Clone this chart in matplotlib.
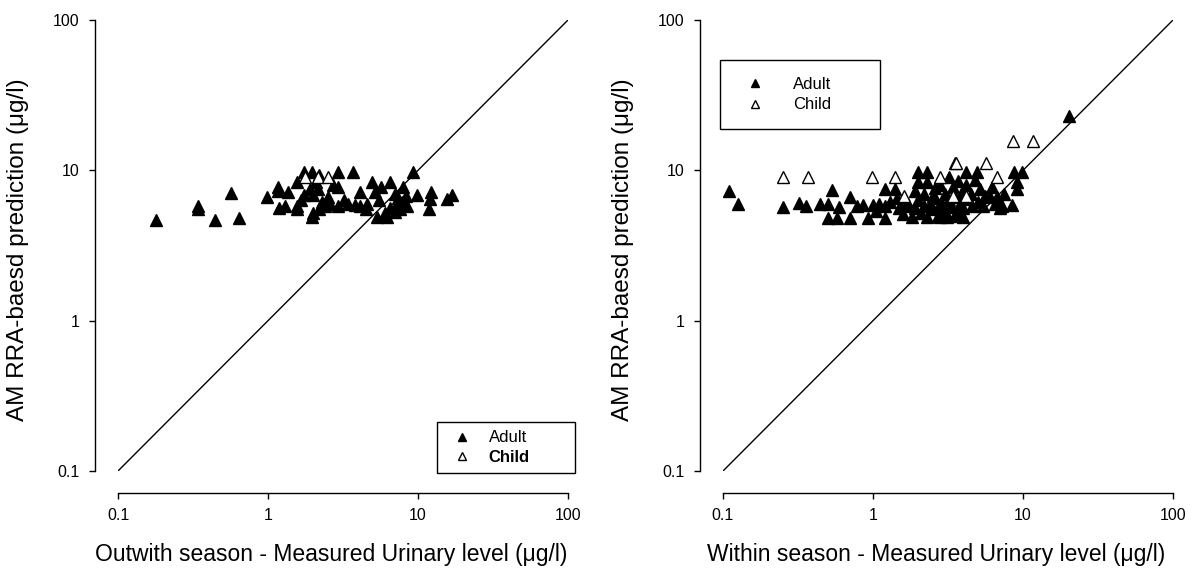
import numpy as np
import matplotlib
matplotlib.use("Agg")
import matplotlib.pyplot as plt
from matplotlib.ticker import FixedLocator, FixedFormatter, NullLocator

plt.rcParams['font.family'] = ['Liberation Sans', 'DejaVu Sans']

# Outwith season: measured urinary level vs RRA-based prediction
out_adult_x = [0.18, 0.34, 0.34, 0.44, 0.57, 0.64, 0.98, 1.17, 1.17, 1.18, 1.36, 1.56, 1.56, 1.56,
               1.74, 1.74, 1.96, 1.9, 2.0, 1.96, 2.0, 2.15, 2.2, 2.3, 2.4, 2.5, 2.6, 2.93, 2.93,
               2.93, 3.2, 3.4, 3.69, 4.1, 4.1, 3.8, 4.6, 4.94, 5.2, 5.5, 5.7, 5.3, 6.2, 6.5, 6.5,
               7.0, 7.2, 7.4, 7.4, 7.6, 7.8, 8.0, 8.3, 7.0, 9.26, 9.8, 8.5, 12.3, 12.0, 11.8,
               15.6, 16.9, 1.3, 1.65, 2.1, 2.7, 2.2, 6.0, 4.5]
out_adult_y = [4.7, 5.8, 5.5, 4.7, 7.1, 4.8, 6.6, 7.8, 7.3, 5.6, 7.2, 8.3, 5.8, 5.5,
               9.7, 6.9, 9.7, 7.5, 6.9, 4.9, 5.2, 7.5, 5.5, 6.2, 5.8, 6.6, 6.0, 9.7, 7.8,
               5.8, 6.3, 6.0, 9.7, 7.2, 5.8, 5.9, 6.0, 8.4, 7.2, 6.3, 7.8, 4.9, 4.9, 8.3, 5.6,
               7.0, 6.0, 6.5, 5.8, 5.5, 6.2, 7.7, 6.8, 5.3, 9.7, 6.9, 5.8, 7.2, 6.4, 5.5,
               6.4, 6.9, 5.8, 6.3, 8.4, 8.0, 9.3, 5.2, 5.5]
out_child_x = [1.76, 2.15, 2.51]
out_child_y = [9.0, 9.0, 9.0]

# Within season
in_adult_x = [0.11, 0.125, 0.25, 0.32, 0.36, 0.44, 0.5, 0.5, 0.53, 0.575, 0.59, 0.70, 0.70, 0.78,
              0.86, 0.93, 1.0, 1.05, 1.2, 1.2, 1.2, 1.3, 1.4, 1.45, 1.5, 1.58, 1.7, 1.82, 1.9,
              1.9, 2.0, 2.0, 2.0, 2.1, 2.2, 2.3, 2.3, 2.3, 2.4, 2.5, 2.6, 2.6, 2.7, 2.8, 2.8,
              2.9, 3.0, 3.0, 3.1, 3.2, 3.2, 3.3, 3.4, 3.5, 3.6, 3.7, 3.8, 3.9, 4.0, 4.0, 4.2,
              4.2, 4.3, 4.5, 4.6, 4.9, 4.8, 5.0, 5.2, 5.4, 5.6, 6.0, 6.2, 6.5, 6.7, 7.0, 7.2,
              7.5, 8.4, 8.7, 9.1, 9.1, 9.8, 20.3, 2.2, 2.5, 3.5, 2.7, 1.6, 1.1]
in_adult_y = [7.3, 6.0, 5.7, 6.1, 5.8, 6.0, 6.0, 4.85, 7.4, 4.85, 5.7, 6.6, 4.85, 5.75,
              5.9, 4.85, 5.9, 5.4, 7.5, 5.8, 4.85, 6.2, 7.5, 6.5, 5.6, 5.1, 6.0, 4.9, 5.6,
              7.3, 9.8, 8.4, 6.3, 5.2, 7.0, 9.8, 8.4, 4.9, 6.0, 5.5, 7.6, 6.5, 5.0, 4.9, 8.0,
              6.0, 5.4, 7.0, 4.9, 9.0, 6.3, 5.7, 7.8, 6.6, 5.2, 8.5, 6.0, 7.2, 4.9, 5.6, 9.8,
              8.0, 6.4, 7.0, 5.8, 9.8, 8.6, 6.2, 7.5, 5.75, 6.8, 6.6, 7.8, 6.0, 6.6, 5.6, 5.75,
              7.0, 5.9, 9.8, 8.4, 7.5, 9.8, 23.0, 5.8, 6.8, 5.0, 5.6, 5.8, 6.0]
in_child_x = [0.25, 0.37, 0.98, 1.4, 1.6, 2.8, 3.4, 3.5, 3.6, 4.2, 5.7, 6.7, 8.6, 11.7]
in_child_y = [9.0, 9.0, 9.0, 9.0, 6.7, 9.0, 6.7, 11.2, 11.2, 6.7, 11.2, 9.0, 15.6, 15.6]

ticks = [0.1, 1, 10, 100]
tick_labels = ['0.1', '1', '10', '100']

W, H = 1201, 574
fig = plt.figure(figsize=(W / 100, H / 100), dpi=100)
ax1 = fig.add_axes([118 / W, 103 / H, 450 / W, 451 / H])
ax2 = fig.add_axes([723 / W, 103 / H, 450 / W, 451 / H])


def style(ax, xlabel, spine_x):
    ax.set_xscale('log')
    ax.set_yscale('log')
    ax.set_xlim(0.1, 100)
    ax.set_ylim(0.1, 100)
    for axis in (ax.xaxis, ax.yaxis):
        axis.set_major_locator(FixedLocator(ticks))
        axis.set_major_formatter(FixedFormatter(tick_labels))
        axis.set_minor_locator(NullLocator())
    ax.spines['top'].set_visible(False)
    ax.spines['right'].set_visible(False)
    ax.spines['left'].set_position(('outward', 16.5))
    ax.spines['bottom'].set_position(('outward', 16))
    ax.spines['left'].set_linewidth(1.0)
    ax.spines['bottom'].set_linewidth(1.0)
    ax.tick_params(direction='out', length=4, width=1.0, labelsize=11.5, pad=7)
    ax.plot([0.1, 100], [0.1, 100], color='black', lw=1.0, zorder=1)
    ax.patch.set_visible(False)
    # axis titles centred on the offset spines
    fig.text((spine_x + 473 / 2) / W, 1 - 555 / H, xlabel, fontsize=16.5,
             ha='center', va='center')
    fig.text((spine_x - 77) / W, 1 - 250 / H, 'AM RRA-baesd prediction (μg/l)',
             fontsize=17.5, rotation=90, ha='center', va='center')


ms = 9
style(ax1, 'Outwith season - Measured Urinary level (μg/l)', 95)
a1, = ax1.plot(out_adult_x, out_adult_y, '^', ms=ms, color='black', mec='black', ls='none', label='Adult', zorder=2)
c1, = ax1.plot(out_child_x, out_child_y, '^', ms=ms, mfc='white', mec='black', mew=1.0, ls='none', label='Child', zorder=3)

style(ax2, 'Within season - Measured Urinary level (μg/l)', 700)
a2, = ax2.plot(in_adult_x, in_adult_y, '^', ms=ms, color='black', mec='black', ls='none', label='Adult', zorder=2)
c2, = ax2.plot(in_child_x, in_child_y, '^', ms=ms, mfc='white', mec='black', mew=1.0, ls='none', label='Child', zorder=3)

leg_kw = dict(fontsize=12, markerscale=0.6, fancybox=False, shadow=False, framealpha=1,
              edgecolor='black', borderaxespad=0, mode='expand')
leg1 = ax1.legend(handles=[a1, c1], loc='lower left',
                  bbox_to_anchor=(437 / W, 101 / H, 138 / W, 55 / H),
                  bbox_transform=fig.transFigure, borderpad=0.5, handlelength=2.0,
                  handletextpad=0.6, labelspacing=0.25, **leg_kw)
leg1.get_frame().set_linewidth(1.0)
leg1.get_texts()[1].set_fontweight('bold')

leg2 = ax2.legend(handles=[a2, c2], loc='upper left',
                  bbox_to_anchor=(720 / W, 1 - 128 / H, 160 / W, 68 / H),
                  bbox_transform=fig.transFigure, borderpad=1.0, handlelength=2.2,
                  handletextpad=1.18, labelspacing=0.35, **leg_kw)
leg2.get_frame().set_linewidth(1.0)

fig.savefig('out.png', dpi=100)
